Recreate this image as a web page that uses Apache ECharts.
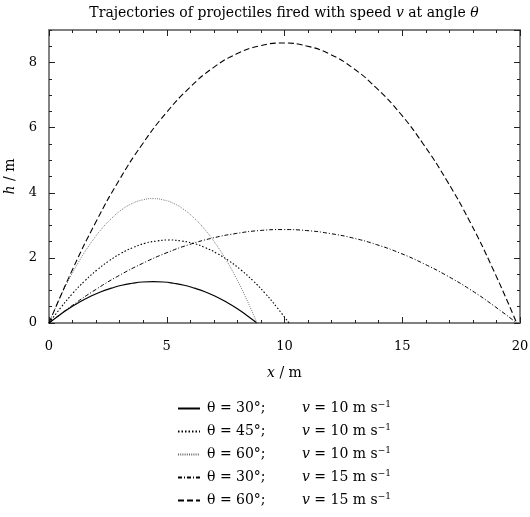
<!DOCTYPE html>
<html><head><meta charset="utf-8">
<script src="https://cdn.jsdelivr.net/npm/echarts@6/dist/echarts.min.js"></script>
<style>html,body{margin:0;padding:0;background:#fff}#c{width:530px;height:517px}</style>
</head><body><div id="c"></div>
<script>
// (g ≈ 9.81 m/s²)
const names = ['s1','s2','s3','s4','s5'];
const legendA = ['30°;','45°;','60°;','30°;','60°;'];
const legendV = ['10','10','10','15','15'];
const x1 = [0,0.44,0.88,1.32,1.77,2.21,2.65,3.09,3.53,3.97,4.42,4.86,5.30,5.74,6.18,6.62,7.06,7.51,7.95,8.39,8.83];
const h1 = [0,0.24,0.46,0.65,0.82,0.96,1.07,1.16,1.22,1.26,1.27,1.26,1.22,1.16,1.07,0.96,0.82,0.65,0.46,0.24,0];
const x2 = [0,0.51,1.02,1.53,2.04,2.55,3.06,3.57,4.08,4.59,5.10,5.60,6.11,6.62,7.13,7.64,8.15,8.66,9.17,9.68,10.19];
const h2 = [0,0.48,0.92,1.30,1.63,1.91,2.14,2.32,2.45,2.52,2.55,2.52,2.45,2.32,2.14,1.91,1.63,1.30,0.92,0.48,0];
const x3 = [0,0.44,0.88,1.32,1.77,2.21,2.65,3.09,3.53,3.97,4.42,4.86,5.30,5.74,6.18,6.62,7.06,7.51,7.95,8.39,8.83];
const h3 = [0,0.73,1.38,1.95,2.45,2.87,3.21,3.48,3.67,3.78,3.82,3.78,3.67,3.48,3.21,2.87,2.45,1.95,1.38,0.73,0];
const x4 = [0,0.99,1.99,2.98,3.97,4.97,5.96,6.95,7.95,8.94,9.93,10.93,11.92,12.91,13.90,14.90,15.89,16.88,17.88,18.87,19.86];
const h4 = [0,0.54,1.03,1.46,1.83,2.15,2.41,2.61,2.75,2.84,2.87,2.84,2.75,2.61,2.41,2.15,1.83,1.46,1.03,0.54,0];
const x5 = [0,0.99,1.99,2.98,3.97,4.97,5.96,6.95,7.95,8.94,9.93,10.93,11.92,12.91,13.90,14.90,15.89,16.88,17.88,18.87,19.86];
const h5 = [0,1.63,3.10,4.39,5.50,6.45,7.22,7.83,8.26,8.51,8.60,8.51,8.26,7.83,7.22,6.45,5.50,4.39,3.10,1.63,0];
const xs = [x1,x2,x3,x4,x5], hs = [h1,h2,h3,h4,h5];

const FONT = 'DejaVu Serif';
const FS = 14;   // text
const TS = 13;   // tick labels
const styles = [
  {color:'#000', width:1.2, type:'solid'},
  {color:'#000', width:1.1, type:[1.5,2]},
  {color:'#666', width:0.9, type:[1,1.2]},
  {color:'#000', width:1, type:[4,2,1,2]},
  {color:'#000', width:1.1, type:[6,3]}
];
const rich = {
  i:{fontFamily:FONT, fontStyle:'italic', fontSize:FS, color:'#000'},
  n:{fontFamily:FONT, fontSize:FS, color:'#000'},
  a:{fontFamily:FONT, fontSize:FS, color:'#000', width:95},
  sup:{fontFamily:FONT, fontSize:9, color:'#000', padding:[0,0,8,0]}
};
const frame = {show:true, onZero:false, lineStyle:{color:'#7a7a7a', width:1.5}};
function ax(pos, interval, len, labels, extra){
  return Object.assign({
    type:'value', position:pos, interval:interval,
    axisLine:frame, splitLine:{show:false},
    axisTick:{show:true, inside:true, length:len, lineStyle:{color:'#222', width:1}},
    axisLabel:{show:labels, fontFamily:FONT, fontSize:TS, color:'#000', margin:17},
  }, extra||{});
}
const nameStyle = {rich:rich, fontFamily:FONT, fontSize:FS, color:'#000'};
const chart = echarts.init(document.getElementById('c'), null, {renderer:'canvas'});
chart.setOption({
  animation:false,
  title:{text:'Trajectories of projectiles fired with speed {i|v} at angle {i|θ}', left:279, top:1, textAlign:'center',
    textStyle:{fontFamily:FONT, fontSize:FS, fontWeight:'normal', color:'#000', rich:rich}},
  grid:{left:49, right:10, top:30, bottom:194, outerBoundsMode:'none', containLabel:false},
  xAxis:[
    ax('bottom',5,6,true,{min:0,max:20, name:'{i|x} / m', nameLocation:'middle', nameGap:43, nameTextStyle:nameStyle}),
    ax('bottom',1,3,false,{min:0,max:20}),
    ax('top',5,6,false,{min:0,max:20}),
    ax('top',1,3,false,{min:0,max:20})
  ],
  yAxis:[
    ax('left',2,6,true,{min:0,max:9, axisLabel:{show:true, fontFamily:FONT, fontSize:TS, color:'#000', margin:12, showMaxLabel:false},
      name:'{i|h} / m', nameLocation:'middle', nameGap:31, nameRotate:90, nameTextStyle:nameStyle}),
    ax('left',0.5,3,false,{min:0,max:9}),
    ax('right',2,6,false,{min:0,max:9}),
    ax('right',0.5,3,false,{min:0,max:9})
  ],
  legend:{orient:'vertical', left:172, top:395, width:300, height:120, itemWidth:22, itemHeight:10, itemGap:7.5,
    itemStyle:{opacity:0},
    data:names,
    formatter:function(n){const k=names.indexOf(n);
      return '{a|θ = '+legendA[k]+'}{i|v}{n| = '+legendV[k]+' m s}{sup|−1}';},
    textStyle:{fontFamily:FONT, fontSize:FS, color:'#000', rich:rich, padding:[0,0,0,2]}},
  series: names.map((n,k)=>({
    name:n, type:'line', xAxisIndex:0, yAxisIndex:0, smooth:true, symbol:'none', showSymbol:false,
    lineStyle:styles[k], itemStyle:{color:styles[k].color},
    data: xs[k].map((x,j)=>[x, hs[k][j]])
  }))
});
</script></body></html>
